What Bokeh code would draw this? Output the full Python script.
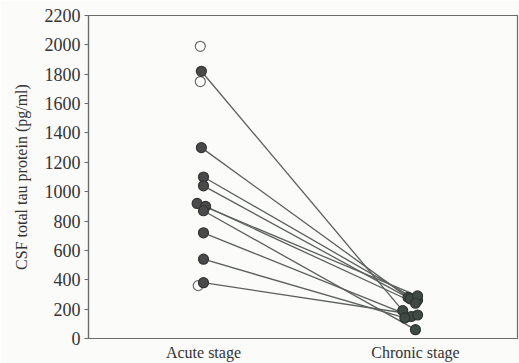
from bokeh.plotting import figure
from bokeh.models import FixedTicker, Range1d
from bokeh.embed import file_html
from bokeh.resources import INLINE

# Data
stages = ["Acute stage", "Chronic stage"]
acute = [1820, 1300, 1100, 1040, 920, 900, 870, 720, 540, 380]
chronic = [190, 280, 260, 270, 290, 240, 60, 150, 140, 160]
acute_dx = [-0.01, -0.01, 0.0, 0.0, -0.03, 0.01, 0.0, 0.0, 0.0, 0.0]
chronic_dx = [-0.06, -0.035, 0.01, -0.025, 0.01, 0.0, 0.0, -0.02, -0.05, 0.01]
acute_open = [1990, 1750, 360]
acute_open_dx = [-0.015, -0.015, -0.025]
y_ticks = [0, 200, 400, 600, 800, 1000, 1200, 1400, 1600, 1800, 2000, 2200]

p = figure(width=519, height=363, output_backend="svg", toolbar_location=None,
           x_range=Range1d(0.4575, 2.4815), y_range=Range1d(0, 2200),
           min_border_left=88, min_border_right=2, min_border_top=15, min_border_bottom=25)
p.background_fill_color = "#fbfbfa"
p.border_fill_color = "#fbfbfa"
p.grid.visible = False
p.outline_line_color = "#6a6a6a"
p.outline_line_width = 1.2

xa = [1 + d for d in acute_dx]
xc = [2 + d for d in chronic_dx]
for i in range(len(acute)):
    p.line([xa[i], xc[i]], [acute[i], chronic[i]], line_color="#5a5f5c", line_width=1.3)

p.scatter([1 + d for d in acute_open_dx], acute_open, size=10, fill_color="white",
          line_color="#6a6a6a", line_width=1.2)
p.scatter(xa, acute, size=10, fill_color="#4a4a4a", line_color="#333333", line_width=1.2)
p.scatter(xc, chronic, size=10, fill_color="#3f4a44", line_color="#2e3530", line_width=1.2)

p.xaxis.ticker = FixedTicker(ticks=[1, 2])
p.xaxis.major_label_overrides = {1: stages[0], 2: stages[1]}
p.xaxis.major_tick_line_color = None
p.xaxis.major_tick_in = 0
p.xaxis.major_tick_out = 0
p.xaxis.minor_tick_line_color = None
p.xaxis.axis_line_color = "#6a6a6a"
p.xaxis.axis_line_width = 1.2
p.xaxis.major_label_standoff = 5
p.xaxis.major_label_text_font_size = "16px"

p.yaxis.ticker = FixedTicker(ticks=y_ticks)
p.yaxis.minor_tick_line_color = None
p.yaxis.major_tick_in = 0
p.yaxis.major_tick_out = 4
p.yaxis.axis_line_color = "#6a6a6a"
p.yaxis.axis_line_width = 1.2
p.yaxis.major_tick_line_color = "#6a6a6a"
p.yaxis.axis_label = "CSF total tau protein (pg/ml)"
p.yaxis.major_label_standoff = 4
p.yaxis.axis_label_standoff = 12
p.yaxis.major_label_text_font_size = "18px"
p.yaxis.axis_label_text_font_size = "16px"

for ax in (p.xaxis, p.yaxis):
    ax.major_label_text_font = "Liberation Serif"
    ax.major_label_text_color = "#333333"
    ax.axis_label_text_font = "Liberation Serif"
    ax.axis_label_text_font_style = "normal"
    ax.axis_label_text_color = "#333333"

open("out.html", "w").write(file_html(p, INLINE))
